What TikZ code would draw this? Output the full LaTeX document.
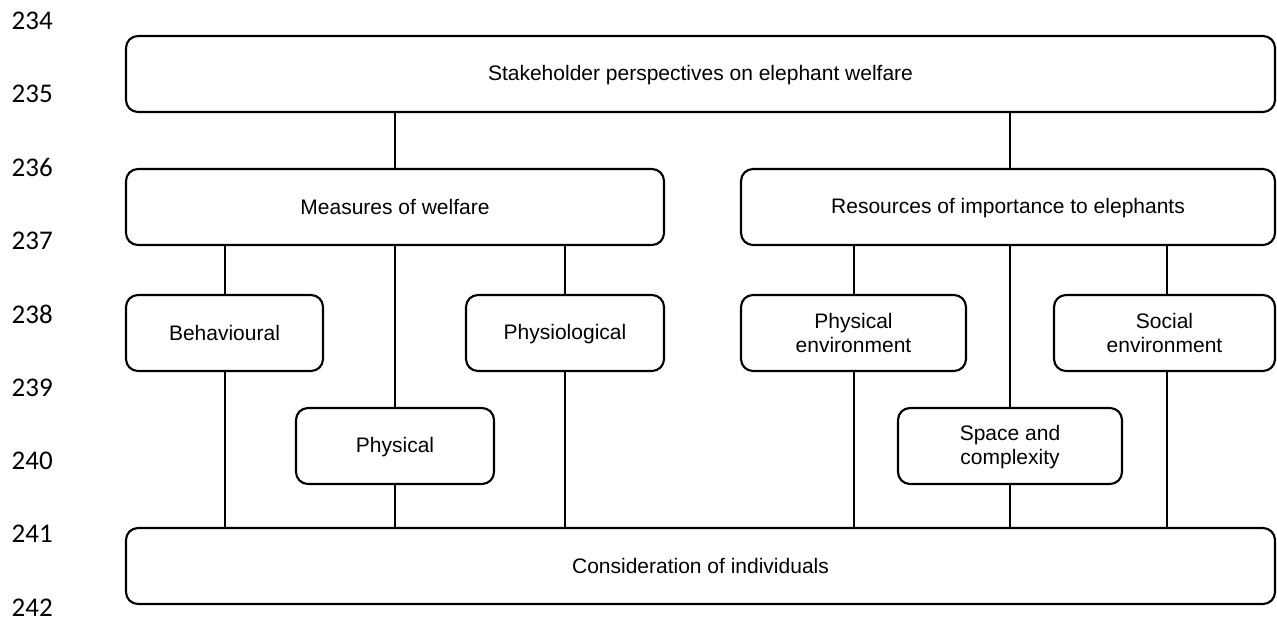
\documentclass[tikz,border=0pt]{standalone}
\usepackage{fontspec}
\setmainfont{Liberation Sans}
\newfontfamily\lnfont{Carlito}
\newcommand\bxs{\vrule height 12.6pt depth 1.4pt width 0pt\relax}
\begin{document}
\begin{tikzpicture}[x=0.75pt,y=-0.75pt,
  box/.style={draw=black, line width=1.6pt, rounded corners=9pt, inner sep=0pt, outer sep=0pt,
    align=center, font=\fontsize{15.75}{18}\selectfont, minimum height=57pt},
  conn/.style={draw=black, line width=1.5pt},
  lnum/.style={anchor=east, inner sep=0pt, font=\lnfont\fontsize{20.25}{20.25}\selectfont}]
\useasboundingbox[fill=white] (0,0) rectangle (1277,621);
% line numbers
\foreach \n [count=\k from 0] in {234,235,236,237,238,239,240,241,242}
  \node[lnum] (ln\n) at (53,{21+73.3*\k}) {\n};
% boxes
\node[box, minimum width=861.75pt] (top) at (700.5,74) {\bxs Stakeholder perspectives on elephant welfare};
\node[box, minimum width=403.5pt] (meas) at (395,207) {\bxs Measures of welfare};
\node[box, minimum width=400.5pt] (res) at (1008,207) {\bxs Resources of importance to elephants};
\node[box, minimum width=147.75pt] (beh) at (224.5,333) {\bxs Behavioural};
\node[box, minimum width=148.5pt] (phys) at (395,446) {\bxs Physical};
\node[box, minimum width=148.5pt] (physio) at (565,333) {\bxs Physiological};
\node[box, minimum width=168.75pt] (penv) at (853.5,333) {\bxs Physical\\\bxs environment};
\node[box, minimum width=168pt] (space) at (1010,446) {\bxs Space and\\\bxs complexity};
\node[box, minimum width=165.75pt] (senv) at (1164.5,333) {\bxs Social\\\bxs environment};
\node[box, minimum width=861.75pt] (bot) at (700.5,566) {\bxs Consideration of individuals};
% connectors
\draw[conn] (top.south -| meas.north) -- (meas.north);
\draw[conn] (top.south -| space.north) -- (res.north -| space.north);
\draw[conn] (meas.south -| beh.north) -- (beh.north);
\draw[conn] (meas.south -| phys.north) -- (phys.north);
\draw[conn] (meas.south -| physio.north) -- (physio.north);
\draw[conn] (beh.south) -- (bot.north -| beh.south);
\draw[conn] (phys.south) -- (bot.north -| phys.south);
\draw[conn] (physio.south) -- (bot.north -| physio.south);
\draw[conn] (res.south -| penv.north) -- (penv.north);
\draw[conn] (res.south -| space.north) -- (space.north);
\draw[conn] ([xshift=1.5pt]res.south -| senv.north) -- ([xshift=1.5pt]senv.north);
\draw[conn] (penv.south) -- (bot.north -| penv.south);
\draw[conn] (space.south) -- (bot.north -| space.south);
\draw[conn] ([xshift=1.5pt]senv.south) -- ([xshift=1.5pt]bot.north -| senv.south);
\end{tikzpicture}
\end{document}
